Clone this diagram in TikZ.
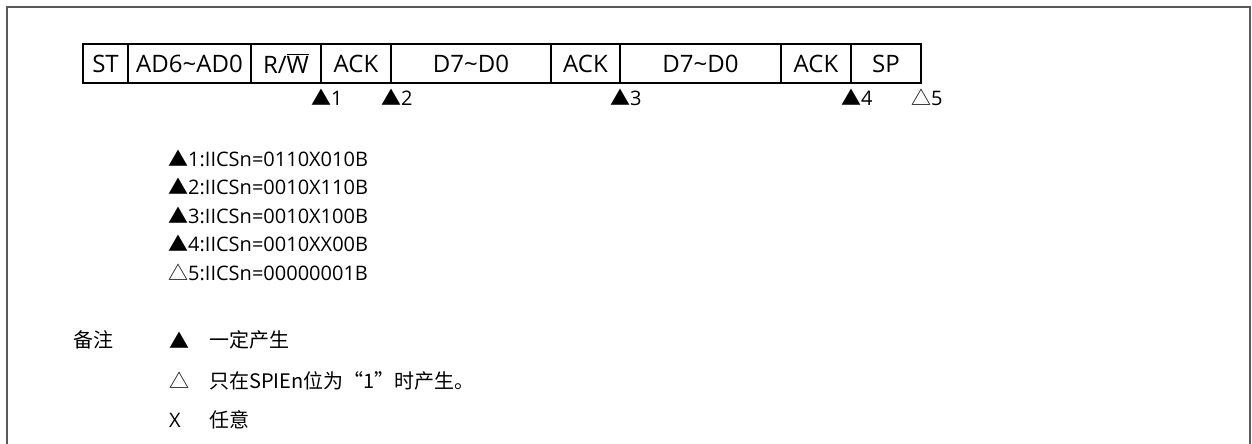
\documentclass[tikz,border=0pt]{standalone}
\usepackage{fontspec}
\setmainfont{Open Sans}
\newfontfamily\cjk{Noto Sans CJK SC}
\usetikzlibrary{positioning}
\definecolor{framegray}{HTML}{5A5A5A}

\begin{document}
\begin{tikzpicture}[x=1pt, y=-1pt,
    cell/.style={draw, line width=1.1pt, minimum height=39pt, inner sep=0pt, outer sep=0pt,
      font=\fontsize{24}{29}\selectfont},
    flag/.style={anchor=west, inner sep=0pt, font=\fontsize{20}{24}\selectfont},
    line/.style={anchor=west, inner sep=0pt, font=\fontsize{20}{24}\selectfont}]
    \useasboundingbox (0,0) rectangle (1252,444);
    \draw[line width=2pt, framegray] (7,444) -- (7,7) -- (1250,7) -- (1250,444);

    % frame of the transfer
    \node[cell, minimum width=45pt, anchor=west] (st) at (83,63.5) {ST};
    \node[cell, minimum width=123pt, right=0pt of st] (addr) {AD6\textasciitilde AD0};
    \node[cell, minimum width=70pt, right=0pt of addr] (rw) {R/$\overline{\hbox{W}}$};
    \node[cell, minimum width=70pt, right=0pt of rw] (ack1) {ACK};
    \node[cell, minimum width=160pt, right=0pt of ack1] (data1) {D7\textasciitilde D0};
    \node[cell, minimum width=69pt, right=0pt of data1] (ack2) {ACK};
    \node[cell, minimum width=161pt, right=0pt of ack2] (data2) {D7\textasciitilde D0};
    \node[cell, minimum width=70pt, right=0pt of data2] (ack3) {ACK};
    \node[cell, minimum width=70pt, right=0pt of ack3] (sp) {SP};

    % interrupt points
    \node[flag] (f1) at ([xshift=-10pt, yshift=-14pt]ack1.south west) {{\cjk ▲}1};
    \node[flag] (f2) at ([xshift=-10pt, yshift=-14pt]data1.south west) {{\cjk ▲}2};
    \node[flag] (f3) at ([xshift=-10pt, yshift=-14pt]data2.south west) {{\cjk ▲}3};
    \node[flag] (f4) at ([xshift=-10pt, yshift=-14pt]sp.south west) {{\cjk ▲}4};
    \node[flag] (f5) at ([xshift=-10pt, yshift=-14pt]sp.south east) {{\cjk △}5};

    % register values
    \node[line] (l1) at (168,158) {{\cjk ▲}1:IICSn=0110X010B};
    \node[line] (l2) at ([yshift=-28.5pt]l1.west) {{\cjk ▲}2:IICSn=0010X110B};
    \node[line] (l3) at ([yshift=-28.5pt]l2.west) {{\cjk ▲}3:IICSn=0010X100B};
    \node[line] (l4) at ([yshift=-28.5pt]l3.west) {{\cjk ▲}4:IICSn=0010XX00B};
    \node[line] (l5) at ([yshift=-28.5pt]l4.west) {{\cjk △}5:IICSn=00000001B};

    % notes
    \node[line] (note) at (73,340) {\cjk 备注};
    \node[line] (k1) at (169,340) {\cjk ▲};
    \node[line] (t1) at (209,340) {\cjk 一定产生};
    \node[line] (k2) at ([yshift=-40.5pt]k1.west) {\cjk △};
    \node[line] (t2) at ([yshift=-40.5pt]t1.west) {\cjk 只在SPIEn位为“1”时产生。};
    \node[line] (k3) at ([yshift=-39.5pt]k2.west) {X};
    \node[line] (t3) at ([yshift=-39.5pt]t2.west) {\cjk 任意};
\end{tikzpicture}
\end{document}
